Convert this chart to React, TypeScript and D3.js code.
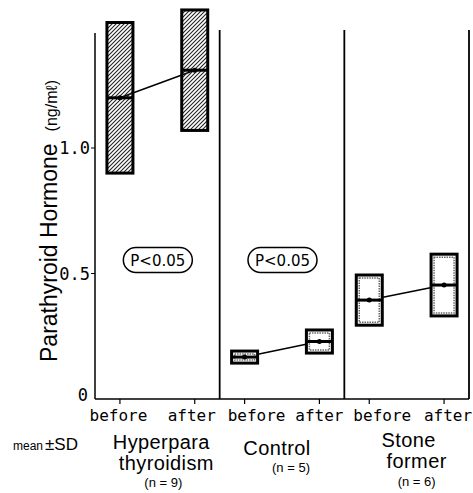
import React from "react";
import * as d3 from "d3";

// groups and their labels
const groups = ["Hyperpara", "Control", "Stone"];
const groupLines = [["Hyperpara", "thyroidism"], ["Control"], ["Stone", "former"]];
const groupN = ["(n = 9)", "(n = 5)", "(n = 6)"];
const phases = ["before", "after"];

// mean and SD per group, before / after (ng/ml)
const meanBefore = [1.2, 0.167, 0.394];
const sdBefore = [0.3, 0.024, 0.1];
const meanAfter = [1.31, 0.229, 0.454];
const sdAfter = [0.24, 0.046, 0.123];

const yTicks = [0, 0.5, 1.0];
const pLabels = ["P<0.05", "P<0.05", ""];

const W = 473;
const H = 493;

export default function App() {
  const x = d3.scaleLinear().domain([0, 3]).range([95, 469]);
  const y = d3.scaleLinear().domain([0, 1]).range([399, 148]);
  const yTop = y(1.458);
  const boxW = 26;
  const pos = (g: number, p: number) => x(g + (p === 0 ? 0.2 : 0.8));
  // label nudges off the tick, as printed
  const labelShift = [
    [-1.5, -3],
    [12, 0],
    [13, 4],
  ];

  const line = d3
    .line<[number, number]>()
    .x((d) => d[0])
    .y((d) => d[1]);

  return (
    <svg width={W} height={H} style={{ position: "absolute", left: 0, top: 0 }}>
      <defs>
        <pattern id="hatch" patternUnits="userSpaceOnUse" width="4" height="4">
          <path d="M-1,1 l2,-2 M0,4 l4,-4 M3,5 l2,-2" stroke="#222" strokeWidth="1.1" />
        </pattern>
      </defs>
      <rect width={W} height={H} fill="#fff" />

      {/* axes */}
      <line x1={x(0)} x2={x(0)} y1={yTop} y2={y(0)} stroke="#000" strokeWidth={1.5} />
      <line x1={x(0)} x2={x(3)} y1={y(0)} y2={y(0)} stroke="#000" strokeWidth={1.5} />
      {[1, 2, 3].map((g) => (
        <line key={g} x1={x(g)} x2={x(g)} y1={y(1.47)} y2={y(0)} stroke="#000" strokeWidth={1.8} />
      ))}

      {yTicks.map((t) => (
        <g key={t}>
          {t > 0 && <line x1={x(0) - 4} x2={x(0)} y1={y(t)} y2={y(t)} stroke="#000" strokeWidth={1} />}
          <text
            x={t > 0 ? x(0) - 5 : x(0) - 7}
            y={y(t) + (t > 0 ? 6 : 2)}
            textAnchor="end"
            fontFamily="DejaVu Sans Mono, monospace"
            fontSize={17}
          >
            {t === 0 ? "0" : d3.format(".1f")(t)}
          </text>
        </g>
      ))}

      <text
        transform={`translate(57, ${y(0) - 37}) rotate(-90)`}
        fontFamily="Liberation Sans, Arial, sans-serif"
        fontSize={23}
      >
        Parathyroid Hormone
        <tspan fontSize={16} dx={12}>(ng/mℓ)</tspan>
      </text>

      {/* boxes */}
      {groups.map((gname, g) => {
        const ms = [meanBefore[g], meanAfter[g]];
        const ss = [sdBefore[g], sdAfter[g]];
        return (
          <g key={gname}>
            <path
              d={line([
                [pos(g, 0), y(ms[0])],
                [pos(g, 1), y(ms[1])],
              ]) as string}
              stroke="#000"
              strokeWidth={1.5}
              fill="none"
            />
            {phases.map((ph, p) => {
              const cx = pos(g, p);
              const top = y(ms[p] + ss[p]);
              const bot = y(ms[p] - ss[p]);
              return (
                <g key={ph}>
                  <rect
                    x={cx - boxW / 2}
                    y={top}
                    width={boxW}
                    height={bot - top}
                    fill={g === 0 ? "url(#hatch)" : "#fff"}
                    stroke="#000"
                    strokeWidth={3}
                  />
                  {g > 0 && (
                    <rect
                      x={cx - boxW / 2 + 3}
                      y={top + 3}
                      width={boxW - 6}
                      height={Math.max(bot - top - 6, 1)}
                      fill="none"
                      stroke="#666"
                      strokeWidth={1.5}
                      strokeDasharray="1.5 1"
                    />
                  )}
                  <line
                    x1={cx - boxW / 2}
                    x2={cx + boxW / 2}
                    y1={y(ms[p])}
                    y2={y(ms[p])}
                    stroke="#000"
                    strokeWidth={3}
                  />
                  <circle cx={cx} cy={y(ms[p])} r={2.5} fill="#000" />
                  <line x1={cx} x2={cx} y1={y(0)} y2={y(0) + 5} stroke="#000" strokeWidth={1.2} />
                  <text
                    x={cx + labelShift[g][p]}
                    y={y(0) + 22}
                    textAnchor="middle"
                    fontFamily="DejaVu Sans Mono, monospace"
                    fontSize={16}
                  >
                    {ph}
                  </text>
                </g>
              );
            })}
            {pLabels[g] && (
              <g>
                <rect
                  x={x(g + 0.5) - 34}
                  y={y(0.5) - 26}
                  width={69}
                  height={25}
                  rx={12.5}
                  fill="#fff"
                  stroke="#000"
                  strokeWidth={1.5}
                />
                <text
                  x={x(g + 0.5) + 0.5}
                  y={y(0.5) - 8}
                  textAnchor="middle"
                  fontFamily="DejaVu Sans, sans-serif"
                  fontSize={15}
                >
                  {pLabels[g]}
                </text>
              </g>
            )}
          </g>
        );
      })}

      {/* group labels */}
      {groupLines.map((lines, g) => {
        const cx = x(g + 0.5) + [4, -5, 2][g];
        const base = [449, 455, 447][g];
        return (
          <g key={g} fontFamily="Liberation Sans, Arial, sans-serif">
            {lines.map((l, i) => (
              <text key={l} x={cx + i * [5, 0, 8][g]} y={base + i * 21} textAnchor="middle" fontSize={20} letterSpacing={0.4}>
                {l}
              </text>
            ))}
            <text
              x={cx + [2, 14, 8][g]}
              y={[487, 472, 486][g]}
              textAnchor="middle"
              fontSize={13}
            >
              {groupN[g]}
            </text>
          </g>
        );
      })}

      <text x={13} y={450} fontFamily="Liberation Sans, Arial, sans-serif" fontSize={12}>
        mean
        <tspan fontSize={17} dx={2}>±SD</tspan>
      </text>
    </svg>
  );
}
